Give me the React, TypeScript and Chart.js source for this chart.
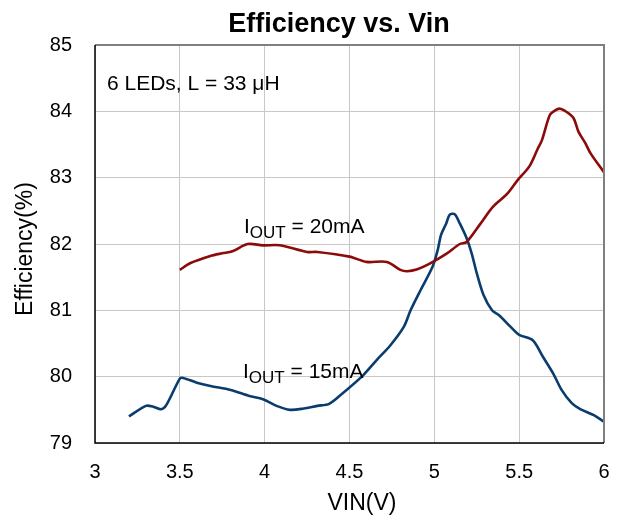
import React, { useEffect, useRef } from 'react';
import { Chart, registerables } from 'chart.js';

Chart.register(...registerables);

const chartTitle = 'Efficiency vs. Vin';
const xAxisTitle = 'VIN(V)';
const yAxisTitle = 'Efficiency(%)';
const noteText = '6 LEDs, L = 33 \u03bcH';
const seriesNames = ['20mA', '15mA'];

const xTickValues = [3, 3.5, 4, 4.5, 5, 5.5, 6];
const xTickLabels = ['3', '3.5', '4', '4.5', '5', '5.5', '6'];
const yTickValues = [79, 80, 81, 82, 83, 84, 85];
const yTickLabels = ['79', '80', '81', '82', '83', '84', '85'];

const vin20 = [3.5, 3.56, 3.68, 3.75, 3.81, 3.9, 3.99, 4.09, 4.25, 4.31, 4.5, 4.6, 4.72, 4.8, 4.84, 4.9, 4.97, 5.07, 5.15, 5.19, 5.27, 5.345, 5.43, 5.49, 5.56, 5.61, 5.635, 5.68, 5.71, 5.74, 5.78, 5.82, 5.85, 5.89, 5.92, 6.0];
const eff20 = [81.61, 81.71, 81.82, 81.86, 81.89, 82.0, 81.98, 81.98, 81.88, 81.88, 81.81, 81.73, 81.73, 81.61, 81.59, 81.62, 81.7, 81.85, 82.0, 82.03, 82.3, 82.56, 82.76, 82.96, 83.17, 83.44, 83.57, 83.94, 84.01, 84.04, 83.99, 83.9, 83.69, 83.52, 83.37, 83.08];

const vin15 = [3.2, 3.3, 3.34, 3.39, 3.42, 3.5, 3.52, 3.6, 3.68, 3.8, 3.91, 3.99, 4.07, 4.15, 4.23, 4.31, 4.38, 4.46, 4.58, 4.66, 4.74, 4.82, 4.86, 4.92, 4.99, 5.02, 5.04, 5.07, 5.09, 5.12, 5.15, 5.19, 5.22, 5.25, 5.29, 5.34, 5.38, 5.45, 5.5, 5.58, 5.64, 5.7, 5.75, 5.81, 5.86, 5.94, 6.0];
const eff15 = [79.4, 79.56, 79.55, 79.51, 79.57, 79.97, 79.98, 79.91, 79.86, 79.8, 79.71, 79.66, 79.56, 79.5, 79.52, 79.56, 79.59, 79.75, 80.02, 80.25, 80.47, 80.75, 81.0, 81.31, 81.66, 81.91, 82.14, 82.31, 82.44, 82.45, 82.31, 82.09, 81.86, 81.56, 81.23, 81.0, 80.93, 80.75, 80.63, 80.55, 80.3, 80.05, 79.8, 79.6, 79.51, 79.42, 79.32];

const FONT = '"Liberation Sans", Arial, sans-serif';

function drawIout(ctx: CanvasRenderingContext2D, x: number, y: number, value: string) {
  ctx.textAlign = 'left';
  ctx.textBaseline = 'alphabetic';
  ctx.font = `21px ${FONT}`;
  ctx.fillText('I', x, y);
  let cx = x + ctx.measureText('I').width;
  ctx.font = `17px ${FONT}`;
  ctx.fillText('OUT', cx, y + 5);
  cx += ctx.measureText('OUT').width;
  ctx.font = `21px ${FONT}`;
  ctx.fillText(' = ' + value, cx, y);
}

const overlayPlugin = {
  id: 'overlay',
  afterDraw(chart: any) {
    const { ctx, chartArea: a } = chart;
    ctx.save();
    ctx.strokeStyle = '#7f7f7f';
    ctx.lineWidth = 2;
    ctx.beginPath();
    ctx.moveTo(a.left, a.top);
    ctx.lineTo(a.right, a.top);
    ctx.lineTo(a.right, a.bottom);
    ctx.stroke();
    ctx.strokeStyle = '#000000';
    ctx.lineWidth = 1.5;
    ctx.beginPath();
    ctx.moveTo(a.left, a.top);
    ctx.lineTo(a.left, a.bottom);
    ctx.lineTo(a.right, a.bottom);
    ctx.stroke();

    ctx.fillStyle = '#000000';
    ctx.font = `bold 27px ${FONT}`;
    ctx.textAlign = 'center';
    ctx.textBaseline = 'alphabetic';
    ctx.fillText(chartTitle, 339, 32);
    ctx.font = `23px ${FONT}`;
    ctx.fillText(xAxisTitle, 362, 510);
    ctx.save();
    ctx.translate(26, 249);
    ctx.rotate(-Math.PI / 2);
    ctx.textBaseline = 'middle';
    ctx.fillText(yAxisTitle, 0, 0);
    ctx.restore();
    ctx.font = `21px ${FONT}`;
    ctx.textAlign = 'left';
    ctx.fillText(noteText, 107, 90);
    drawIout(ctx, 244, 233, seriesNames[0]);
    drawIout(ctx, 243, 378, seriesNames[1]);
    ctx.restore();
  },
};

export default function App() {
  const ref = useRef<HTMLCanvasElement>(null);
  useEffect(() => {
    if (!ref.current) return;
    const chart = new Chart(ref.current, {
      type: 'line',
      data: {
        datasets: [
          {
            label: seriesNames[0],
            data: vin20.map((v, i) => ({ x: v, y: eff20[i] })),
            borderColor: '#8b0a0a',
            borderWidth: 2.6,
            pointRadius: 0,
            tension: 0.3,
            fill: false,
          },
          {
            label: seriesNames[1],
            data: vin15.map((v, i) => ({ x: v, y: eff15[i] })),
            borderColor: '#0b3c6e',
            borderWidth: 2.6,
            pointRadius: 0,
            tension: 0.3,
            fill: false,
          },
        ],
      },
      options: {
        animation: false,
        responsive: false,
        layout: { padding: { top: 45, right: 17, left: 0, bottom: 0 } },
        plugins: { legend: { display: false }, title: { display: false }, tooltip: { enabled: false } },
        scales: {
          x: {
            type: 'linear',
            min: 3,
            max: 6,
            afterBuildTicks: (s: any) => { s.ticks = xTickValues.map((v) => ({ value: v })); },
            afterFit: (s: any) => { s.height = 75; s.paddingLeft = 0; s.paddingRight = 0; },
            grid: { color: '#c8c8c8', lineWidth: 1, drawTicks: false },
            border: { display: false },
            ticks: {
              color: '#000',
              font: { family: FONT, size: 20 },
              padding: 17,
              maxRotation: 0,
              autoSkip: false,
              callback: (v: any) => xTickLabels[xTickValues.indexOf(Number(v))] ?? String(v),
            },
          },
          y: {
            type: 'linear',
            min: 79,
            max: 85,
            afterBuildTicks: (s: any) => { s.ticks = yTickValues.map((v) => ({ value: v })); },
            afterFit: (s: any) => { s.width = 95; s.paddingTop = 0; s.paddingBottom = 0; },
            grid: { color: '#c8c8c8', lineWidth: 1, drawTicks: false },
            border: { display: false },
            ticks: {
              color: '#000',
              font: { family: FONT, size: 20 },
              padding: 23,
              callback: (v: any) => yTickLabels[yTickValues.indexOf(Number(v))] ?? String(v),
            },
          },
        },
      },
      plugins: [overlayPlugin],
    });
    return () => chart.destroy();
  }, []);
  return (
    <div style={{ position: 'fixed', left: 0, top: 0, width: 621, height: 518, background: '#fff' }}>
      <canvas ref={ref} width={621} height={518} style={{ display: 'block' }} />
    </div>
  );
}
